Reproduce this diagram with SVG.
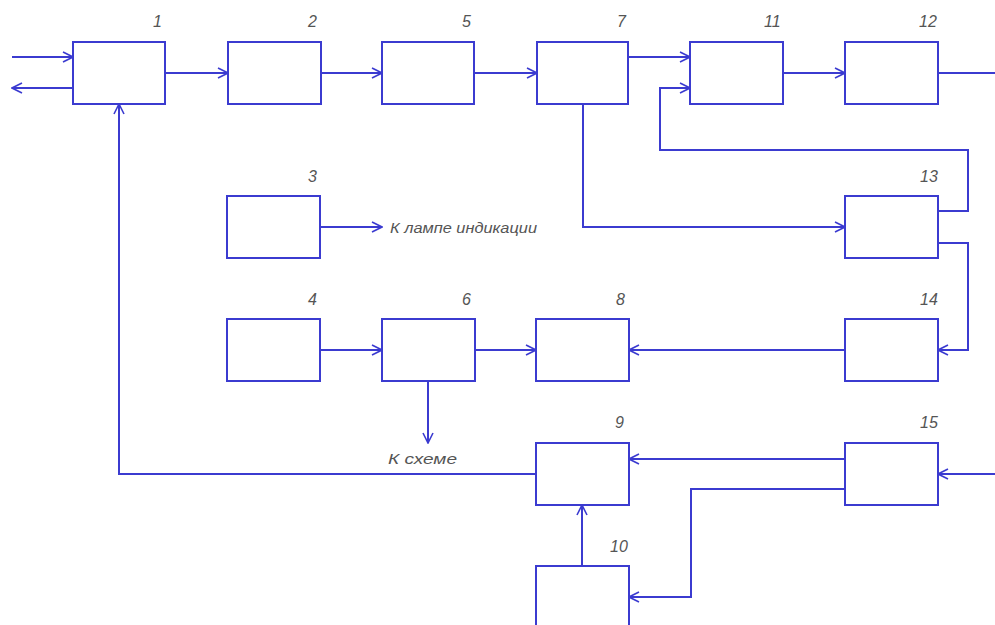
<svg xmlns="http://www.w3.org/2000/svg" width="995" height="625" viewBox="0 0 995 625">
<defs>
<marker id="ar" viewBox="0 0 12 12" refX="11" refY="6" markerWidth="12" markerHeight="12" markerUnits="userSpaceOnUse" orient="auto">
<path d="M1,1 L11,6 L1,11" fill="none" stroke="#3b3bd0" stroke-width="1.6"/>
</marker>
</defs>
<style>
.b{fill:#fff;stroke:#3b3bd0;stroke-width:2}
.c{fill:none;stroke:#3b3bd0;stroke-width:2;marker-end:url(#ar)}
.n{fill:none;stroke:#3b3bd0;stroke-width:2}
.t{font-family:"Liberation Sans",Arial,sans-serif;font-style:italic;font-size:16px;fill:#555}
.l{font-family:"Liberation Sans",Arial,sans-serif;font-style:italic;font-size:15px;fill:#555}
</style>
<rect width="995" height="625" fill="#fff"/>
<g id="connectors">
<path class="c" d="M12,57 H73"/>
<path class="c" d="M73,88 H12"/>
<path class="c" d="M165,73 H228"/>
<path class="c" d="M321,73 H382"/>
<path class="c" d="M474,73 H537"/>
<path class="c" d="M628,57 H690"/>
<path class="c" d="M783,73 H845"/>
<path class="n" d="M938,73 H995"/>
<path class="c" d="M938,211 H968 V150 H660 V88 H690"/>
<path class="c" d="M938,243 H968 V350 H938"/>
<path class="c" d="M583,104 V227 H845"/>
<path class="c" d="M320,227 H382"/>
<path class="c" d="M320,350 H382"/>
<path class="c" d="M475,350 H536"/>
<path class="c" d="M845,350 H629"/>
<path class="c" d="M428,381 V443"/>
<path class="c" d="M536,474 H119 V104"/>
<path class="c" d="M845,459 H629"/>
<path class="c" d="M845,489 H691 V597 H629"/>
<path class="c" d="M582,566 V505"/>
<path class="c" d="M995,474 H938"/>
</g>
<g id="node1"><rect class="b" x="73" y="42" width="92" height="62"/><text class="t" x="153" y="27">1</text></g>
<g id="node2"><rect class="b" x="228" y="42" width="93" height="62"/><text class="t" x="308" y="27">2</text></g>
<g id="node5"><rect class="b" x="382" y="42" width="92" height="62"/><text class="t" x="462" y="27">5</text></g>
<g id="node7"><rect class="b" x="537" y="42" width="91" height="62"/><text class="t" x="617" y="27">7</text></g>
<g id="node11"><rect class="b" x="690" y="42" width="93" height="62"/><text class="t" x="764" y="27">11</text></g>
<g id="node12"><rect class="b" x="845" y="42" width="93" height="62"/><text class="t" x="919" y="27">12</text></g>
<g id="node3"><rect class="b" x="227" y="196" width="93" height="62"/><text class="t" x="308" y="182">3</text><text class="l" x="390" y="233" textLength="147" lengthAdjust="spacingAndGlyphs">К лампе индикации</text></g>
<g id="node13"><rect class="b" x="845" y="196" width="93" height="62"/><text class="t" x="920" y="182">13</text></g>
<g id="node4"><rect class="b" x="227" y="319" width="93" height="62"/><text class="t" x="308" y="305">4</text></g>
<g id="node6"><rect class="b" x="382" y="319" width="93" height="62"/><text class="t" x="462" y="305">6</text><text class="l" x="388" y="464" textLength="69" lengthAdjust="spacingAndGlyphs">К схеме</text></g>
<g id="node8"><rect class="b" x="536" y="319" width="93" height="62"/><text class="t" x="616" y="305">8</text></g>
<g id="node14"><rect class="b" x="845" y="319" width="93" height="62"/><text class="t" x="920" y="305">14</text></g>
<g id="node9"><rect class="b" x="536" y="443" width="93" height="62"/><text class="t" x="615" y="428">9</text></g>
<g id="node15"><rect class="b" x="845" y="443" width="93" height="62"/><text class="t" x="920" y="428">15</text></g>
<g id="node10"><rect class="b" x="536" y="566" width="93" height="62"/><text class="t" x="610" y="552">10</text></g>
</svg>
